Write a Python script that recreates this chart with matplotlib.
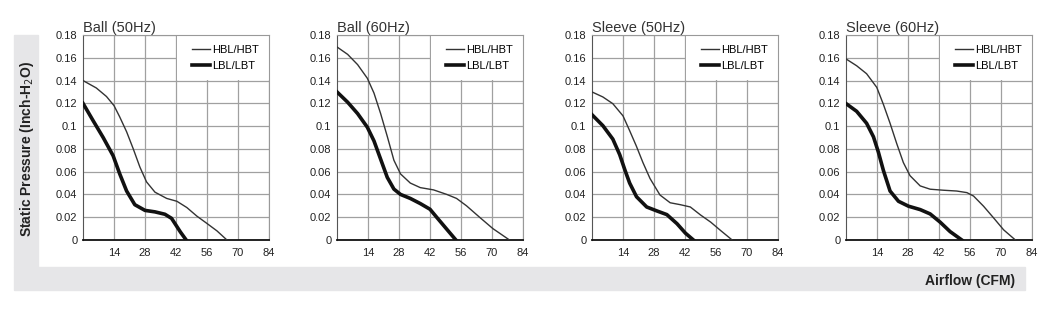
import matplotlib
matplotlib.use('Agg')
import matplotlib.pyplot as plt
from matplotlib.patches import Rectangle

plt.rcParams['font.family'] = ['Liberation Sans', 'DejaVu Sans']

# panel titles
titles = ['Ball (50Hz)', 'Ball (60Hz)', 'Sleeve (50Hz)', 'Sleeve (60Hz)']

# HBL/HBT curves (airflow CFM, static pressure inch-H2O)
hbl_x = [
    [0, 6, 10.6, 14, 16.6, 19.7, 22.7, 25.7, 28.7, 32.5, 37.8, 42.4, 46.9, 51.4, 56, 60.5, 65],
    [0, 4.8, 9.3, 13.7, 16.7, 19.7, 22.7, 25.7, 28.7, 33.1, 37.6, 43.6, 49.6, 54, 58.5, 64.5, 70.4, 77.9],
    [0, 4.9, 9.4, 14, 17, 20, 23, 26.2, 30.7, 35.3, 39.9, 44.4, 49, 53.6, 58.1, 63.3],
    [0, 4.8, 9.3, 13.9, 16.9, 19.9, 22.9, 25.9, 28.9, 33.5, 38, 44, 50, 54.6, 57.6, 62.1, 66.7, 71.2, 76.5],
]
hbl_y = [
    [0.14, 0.1335, 0.126, 0.118, 0.108, 0.095, 0.08, 0.064, 0.051, 0.042, 0.0365, 0.034, 0.0285, 0.021, 0.0145, 0.008, 0],
    [0.1695, 0.163, 0.154, 0.142, 0.129, 0.111, 0.091, 0.07, 0.058, 0.05, 0.046, 0.044, 0.04, 0.0365, 0.03, 0.0198, 0.01, 0],
    [0.13, 0.1256, 0.1197, 0.109, 0.096, 0.0826, 0.068, 0.054, 0.0395, 0.0327, 0.031, 0.029, 0.022, 0.0157, 0.0083, 0],
    [0.159, 0.153, 0.146, 0.134, 0.119, 0.1025, 0.0847, 0.068, 0.0565, 0.0475, 0.0446, 0.0437, 0.043, 0.0416, 0.0386, 0.0297, 0.0193, 0.0089, 0],
]

# LBL/LBT curves
lbl_x = [
    [0, 4.5, 9.1, 13.6, 16.6, 19.7, 23.4, 28, 32.5, 37, 40, 42, 44, 46.6],
    [0, 4.8, 9.3, 13.7, 16.7, 19.7, 22.7, 25.7, 28.7, 33.1, 37.6, 42, 45, 49.6, 53.7],
    [0, 4.9, 9.4, 12.5, 14.8, 17, 20.1, 24.7, 29.2, 33.8, 38.4, 42.2, 45.8],
    [0, 4.8, 9.3, 12.4, 14.6, 16.9, 19.9, 23.7, 28.2, 33.5, 38, 42.5, 47, 52.3],
]
lbl_y = [
    [0.12, 0.105, 0.09, 0.074, 0.058, 0.043, 0.031, 0.026, 0.0247, 0.0226, 0.019, 0.013, 0.007, 0],
    [0.13, 0.121, 0.111, 0.099, 0.087, 0.071, 0.055, 0.0447, 0.04, 0.0365, 0.032, 0.027, 0.02, 0.0094, 0],
    [0.11, 0.1004, 0.0886, 0.075, 0.0618, 0.05, 0.038, 0.029, 0.0256, 0.0223, 0.0143, 0.006, 0],
    [0.1198, 0.113, 0.1025, 0.0906, 0.0773, 0.061, 0.043, 0.034, 0.0297, 0.0267, 0.0229, 0.0157, 0.0074, 0],
]

x_ticks = [14, 28, 42, 56, 70, 84]
y_ticks = [0, 0.02, 0.04, 0.06, 0.08, 0.1, 0.12, 0.14, 0.16, 0.18]
y_labels = ['0', '0.02', '0.04', '0.06', '0.08', '0.1', '0.12', '0.14', '0.16', '0.18']

fig = plt.figure(figsize=(10.44, 3.10), dpi=100)

# grey frame behind the y label and x label
bg = '#e6e6e8'
fig.patches.append(Rectangle((14 / 1044, 43 / 310), 24 / 1044, 232 / 310,
                             transform=fig.transFigure, color=bg, zorder=0))
fig.patches.append(Rectangle((14 / 1044, 20 / 310), 1011 / 1044, 23 / 310,
                             transform=fig.transFigure, color=bg, zorder=0))

lefts = [83, 337, 592, 846]
for i in range(4):
    ax = fig.add_axes([lefts[i] / 1044, 70 / 310, 186 / 1044, 205 / 310])
    ax.set_xlim(0, 84)
    ax.set_ylim(0, 0.18)
    ax.set_xticks(x_ticks)
    ax.set_yticks(y_ticks)
    ax.set_yticklabels(y_labels)
    ax.tick_params(length=0, labelsize=8, colors='#222222', pad=4)
    ax.tick_params(axis='x', pad=6)
    ax.grid(True, color='#a0a0a0', linewidth=0.9)
    ax.set_axisbelow(True)
    # white area behind the legend covers the grid
    ax.add_patch(Rectangle((42.3, 0.1405), 41.7, 0.0395, facecolor='white',
                           edgecolor='none', zorder=1))
    ax.plot(hbl_x[i], hbl_y[i], color='#333333', linewidth=1.0, label='HBL/HBT', zorder=3)
    ax.plot(lbl_x[i], lbl_y[i], color='#111111', linewidth=2.6, label='LBL/LBT',
            zorder=3, solid_joinstyle='round')
    for s in ['top', 'right']:
        ax.spines[s].set_color('#999999')
    ax.spines['left'].set_color('#555555')
    ax.spines['bottom'].set_color('#111111')
    ax.spines['bottom'].set_linewidth(1.3)
    ax.set_title(titles[i], loc='left', fontsize=10.5, color='#333333', pad=2)
    ax.legend(loc='upper right', frameon=False, fontsize=8, handlelength=1.6,
              handletextpad=0.2, borderaxespad=0.5, labelspacing=0.5)

fig.text(27 / 1044, 0.52, 'Static Pressure (Inch-H$_2$O)', rotation=90,
         ha='center', va='center', fontsize=10, fontweight='bold', color='#222222')
fig.text(1015 / 1044, 29 / 310, 'Airflow (CFM)', ha='right', va='center',
         fontsize=10, fontweight='bold', color='#222222')

plt.savefig('out.png', dpi=100)
